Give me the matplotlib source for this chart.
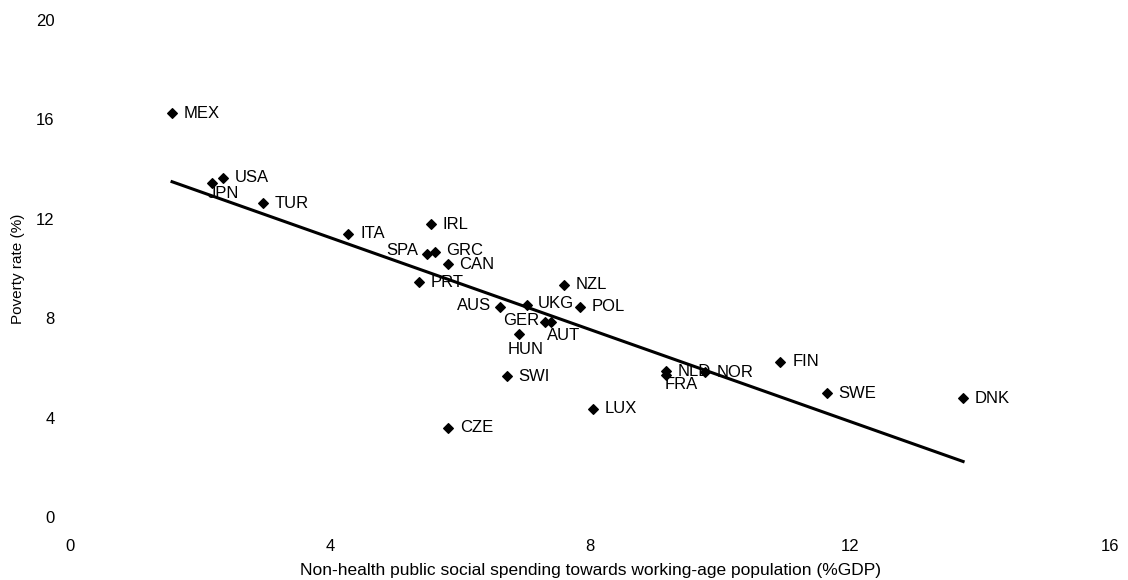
import numpy as np
import matplotlib
matplotlib.use("Agg")
import matplotlib.pyplot as plt

plt.rcParams["font.family"] = ["Liberation Sans", "DejaVu Sans"]

countries = ["MEX", "USA", "JPN", "TUR", "ITA", "IRL", "SPA", "GRC", "CAN", "PRT",
             "NZL", "AUS", "UKG", "POL", "GER", "AUT", "HUN", "SWI", "CZE", "LUX",
             "NLD", "FRA", "NOR", "FIN", "SWE", "DNK"]
spending = [1.57, 2.36, 2.19, 2.97, 4.28, 5.55, 5.49, 5.62, 5.81, 5.37,
            7.60, 6.61, 7.03, 7.85, 7.31, 7.40, 6.91, 6.72, 5.82, 8.04,
            9.17, 9.17, 9.77, 10.93, 11.64, 13.74]
poverty = [16.25, 13.65, 13.45, 12.62, 11.39, 11.79, 10.57, 10.68, 10.17, 9.44,
           9.35, 8.46, 8.53, 8.46, 7.85, 7.85, 7.35, 5.67, 3.59, 4.35,
           5.86, 5.73, 5.82, 6.25, 4.98, 4.78]

x_ticks = [0, 4, 8, 12, 16]
y_ticks = [0, 4, 8, 12, 16, 20]

# label offsets in points (dx, dy, ha)
offsets = {
    "JPN": (-3, -8, "left"),
    "SPA": (-6, 3, "right"),
    "AUS": (-6, 1, "right"),
    "GER": (-4, 1, "right"),
    "AUT": (-3, -10, "left"),
    "HUN": (-8, -11, "left"),
    "FRA": (-1, -7, "left"),
    "GRC": (8, 1, "left"),
    "UKG": (8, 1, "left"),
}

fig = plt.figure(figsize=(11.28, 5.8), dpi=100)
ax = fig.add_axes([70 / 1128, 63 / 580, 1040 / 1128, 497 / 580])

ax.scatter(spending, poverty, marker="D", s=24, color="black", zorder=3)

fit = np.polyfit(spending, poverty, 1)
xs = np.array([min(spending), max(spending)])
ax.plot(xs, np.polyval(fit, xs), color="black", lw=2.2, zorder=2)

for name, x, y in zip(countries, spending, poverty):
    dx, dy, ha = offsets.get(name, (8.5, 0, "left"))
    ax.annotate(name, (x, y), xytext=(dx, dy), textcoords="offset points",
                ha=ha, va="center", fontsize=12, zorder=4)

ax.set_xlim(0, 16)
ax.set_ylim(0, 20)
ax.set_xticks(x_ticks)
ax.set_yticks(y_ticks)
ax.tick_params(length=0, labelsize=12, pad=11)
ax.tick_params(axis="x", pad=16)
for s in ax.spines.values():
    s.set_visible(False)

ax.set_xlabel("Non-health public social spending towards working-age population (%GDP)",
              fontsize=12.5, labelpad=6)
ax.set_ylabel("Poverty rate (%)", fontsize=11, labelpad=8)

fig.savefig("out.png", dpi=100)
